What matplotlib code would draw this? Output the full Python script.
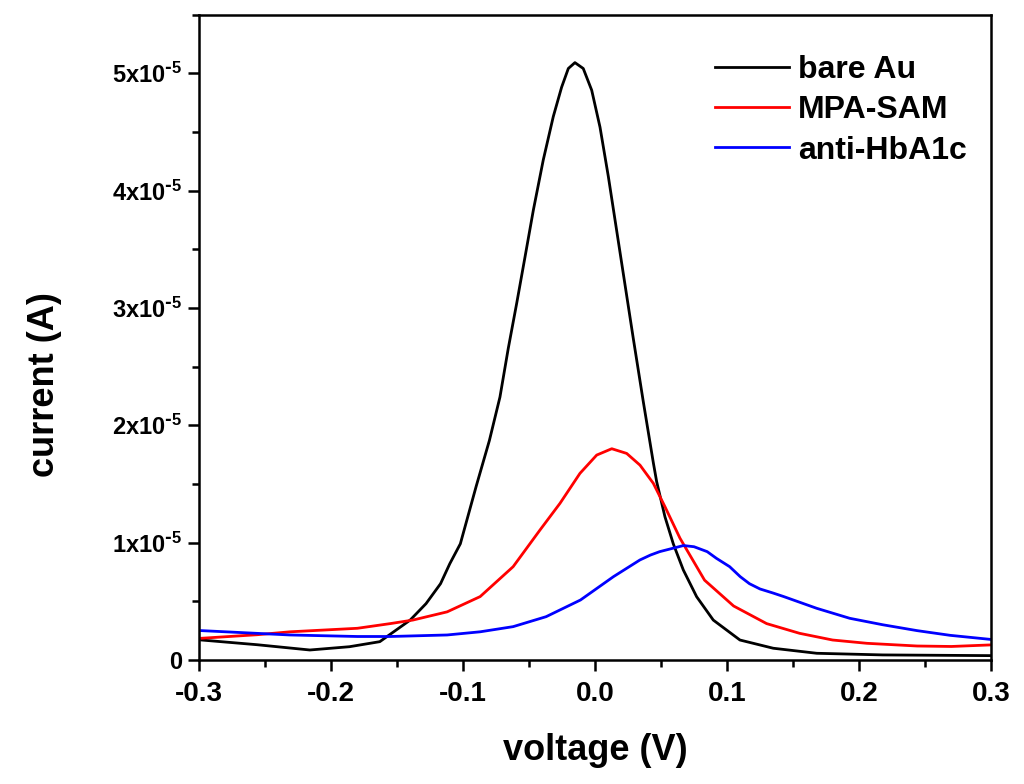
import matplotlib
matplotlib.use("Agg")
import matplotlib.pyplot as plt
import numpy as np
from matplotlib.ticker import MultipleLocator, FuncFormatter

plt.rcParams['font.family'] = ['Liberation Sans', 'DejaVu Sans']
plt.rcParams['font.weight'] = 'bold'
plt.rcParams['mathtext.default'] = 'regular'

# values; currents in units of 1e-5 A
v_bare = [-0.298, -0.256, -0.216, -0.186, -0.163, -0.140, -0.128, -0.117, -0.110, -0.102,
          -0.090, -0.080, -0.072, -0.0657, -0.0593, -0.053, -0.0467, -0.0392, -0.0316,
          -0.0253, -0.0202, -0.0152, -0.0089, -0.0025, 0.0038, 0.0101, 0.0164, 0.0227,
          0.029, 0.0366, 0.0442, 0.0467, 0.053, 0.0593, 0.0669, 0.077, 0.0896, 0.1098,
          0.135, 0.168, 0.218, 0.300]
i_bare = [0.17, 0.13, 0.085, 0.113, 0.156, 0.34, 0.48, 0.65, 0.82, 0.99,
          1.48, 1.87, 2.24, 2.655, 3.04, 3.435, 3.833, 4.26, 4.63,
          4.88, 5.04, 5.09, 5.04, 4.855, 4.54, 4.12, 3.66, 3.20,
          2.74, 2.20, 1.68, 1.52, 1.22, 0.99, 0.767, 0.539, 0.34, 0.17,
          0.10, 0.057, 0.043, 0.037]

v_mpa = [-0.298, -0.256, -0.231, -0.180, -0.155, -0.138, -0.112, -0.087, -0.062, -0.0417,
         -0.0265, -0.0114, 0.0013, 0.0127, 0.024, 0.0341, 0.0442, 0.053, 0.0644, 0.083,
         0.105, 0.130, 0.155, 0.180, 0.206, 0.244, 0.270, 0.299]
i_mpa = [0.185, 0.215, 0.24, 0.27, 0.31, 0.34, 0.41, 0.54, 0.795, 1.107,
         1.335, 1.59, 1.746, 1.80, 1.76, 1.66, 1.505, 1.306, 1.037, 0.68,
         0.46, 0.31, 0.227, 0.17, 0.142, 0.119, 0.115, 0.128]

v_anti = [-0.298, -0.231, -0.180, -0.155, -0.112, -0.087, -0.062, -0.037, -0.011, 0.014,
          0.034, 0.042, 0.049, 0.067, 0.075, 0.085, 0.092, 0.102, 0.110, 0.117, 0.125,
          0.135, 0.143, 0.168, 0.193, 0.218, 0.244, 0.269, 0.299]
i_anti = [0.25, 0.213, 0.20, 0.20, 0.213, 0.24, 0.284, 0.369, 0.511, 0.71,
          0.852, 0.894, 0.923, 0.975, 0.965, 0.923, 0.866, 0.795, 0.71, 0.65, 0.605,
          0.57, 0.54, 0.44, 0.355, 0.30, 0.25, 0.21, 0.176]

labels = ['bare Au', 'MPA-SAM', 'anti-HbA1c']
colors = ['black', 'red', 'blue']

fig = plt.figure(figsize=(10.24, 7.84), dpi=100)
ax = fig.add_axes([0.1943, 0.1582, 0.7735, 0.8233])

series = [(v_bare, i_bare), (v_mpa, i_mpa), (v_anti, i_anti)]
for (v, i), lab, c in zip(series, labels, colors):
    ax.plot(v, np.array(i) * 1e-5, color=c, lw=2.0, label=lab,
            solid_joinstyle='round')

ax.set_xlim(-0.3, 0.3)
ax.set_ylim(0, 5.5e-5)
ax.xaxis.set_major_locator(MultipleLocator(0.1))
ax.xaxis.set_minor_locator(MultipleLocator(0.05))
ax.yaxis.set_major_locator(MultipleLocator(1e-5))
ax.yaxis.set_minor_locator(MultipleLocator(0.5e-5))


def yfmt(y, pos):
    n = int(round(y / 1e-5))
    if n == 0:
        return '0'
    return '%dx10$^{\\text{-}5}$' % n


ax.yaxis.set_major_formatter(FuncFormatter(yfmt))
ax.xaxis.set_major_formatter(FuncFormatter(lambda x, p: '%.1f' % x))

for s in ax.spines.values():
    s.set_linewidth(1.8)
ax.tick_params(which='major', direction='out', length=8, width=1.8)
ax.tick_params(which='minor', direction='out', length=5, width=1.8)
ax.tick_params(axis='x', labelsize=20, pad=7)
ax.tick_params(axis='y', labelsize=17, pad=4)

ax.set_xlabel('voltage (V)', fontsize=26, fontweight='bold')
ax.xaxis.set_label_coords(0.5, -0.113)
ax.set_ylabel('current (A)', fontsize=26, fontweight='bold')
ax.yaxis.set_label_coords(-0.173, 0.426)

ax.legend(loc='upper left', bbox_to_anchor=(0.6515, 0.937), frameon=False,
          borderpad=0, borderaxespad=0,
          fontsize=23, handlelength=2.32, handletextpad=0.28, labelspacing=0.32)

fig.savefig('out.png', dpi=100)
